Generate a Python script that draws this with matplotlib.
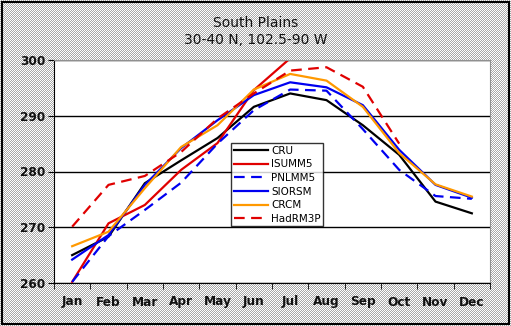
import matplotlib.pyplot as plt
from matplotlib.patches import Rectangle
import numpy as np

months = ['Jan', 'Feb', 'Mar', 'Apr', 'May', 'Jun', 'Jul', 'Aug', 'Sep', 'Oct', 'Nov', 'Dec']
nan = np.nan
cru = [265.0, 268.3, 277.9, 282.0, 286.0, 291.6, 294.0, 292.8, 288.3, 283.0, 274.6, 272.5]
isumm5 = [260.2, 270.7, 274.0, 280.3, 285.1, 294.6, 300.3, nan, nan, nan, nan, nan]
pnlmm5 = [260.2, 268.4, 273.1, 278.0, 285.0, 291.0, 294.7, 294.5, 287.6, 280.3, 275.6, 275.1]
siorsm = [264.2, 268.6, 277.6, 284.2, 289.2, 293.7, 296.0, 295.1, 291.9, 283.9, 277.6, 275.3]
crcm = [266.6, 269.2, 277.0, 284.4, 288.3, 294.7, 297.5, 296.3, 291.6, 283.3, 277.7, 275.5]
hadrm3p = [270.1, 277.6, 279.2, 283.5, 289.5, 294.0, 298.1, 298.7, 295.2, 285.0, nan, nan]

dash = (0, (4.8, 2.9))
series = [
    ('CRU', cru, '#000000', '-'),
    ('ISUMM5', isumm5, '#e00000', '-'),
    ('PNLMM5', pnlmm5, '#0000f0', dash),
    ('SIORSM', siorsm, '#0000f0', '-'),
    ('CRCM', crcm, '#ff9900', '-'),
    ('HadRM3P', hadrm3p, '#e00000', dash),
]

W, H = 511, 326
fig = plt.figure(figsize=(W / 100, H / 100), dpi=100)

# dithered grey background like the old Excel chart area
yy, xx = np.mgrid[0:H, 0:W]
checker = np.where((xx + yy) % 2 == 0, 1.0, 0.66)
bg = np.dstack([checker] * 3)
fig.figimage(bg, 0, 0, zorder=-10)
fig.patches.append(Rectangle((1.5 / W, 2.5 / H), (W - 4) / W, (H - 4) / H,
                             transform=fig.transFigure, fill=False,
                             edgecolor='black', lw=1.5, zorder=1))

ax = fig.add_axes([54 / W, 43 / H, 436 / W, 223 / H])
ax.set_facecolor('white')

x = np.arange(len(months))
for name, vals, col, ls in series:
    ax.plot(x, vals, color=col, linestyle=ls, lw=1.6, label=name)

ax.set_xlim(-0.5, 11.5)
ax.set_ylim(260, 300)
ax.set_yticks([260, 270, 280, 290, 300])
ax.yaxis.grid(True, color='black', lw=1)
ax.set_axisbelow(True)
ax.set_xticks(x)
ax.set_xticklabels(months)
ax.set_xticks(np.arange(-0.5, 12, 1), minor=True)
ax.tick_params(axis='x', which='major', length=0, pad=9)
ax.tick_params(axis='x', which='minor', length=4, color='black', direction='out')
ax.tick_params(axis='y', length=4, color='black', direction='out', pad=2)
for lab in ax.get_xticklabels() + ax.get_yticklabels():
    lab.set_fontweight('bold')
    lab.set_fontsize(8.7)
    lab.set_color('#111111')
for s in ['top', 'right']:
    ax.spines[s].set_color('#909090')
for s in ['left', 'bottom']:
    ax.spines[s].set_color('black')

fig.text(0.5, 1 - 23 / H, 'South Plains', ha='center', va='center', fontsize=10, color='#111111')
fig.text(0.5, 1 - 40 / H, '30-40 N, 102.5-90 W', ha='center', va='center', fontsize=10, color='#111111')

leg = ax.legend(loc='upper left', bbox_to_anchor=((231 - 54) / 436, (283 - 143) / 223),
                fontsize=7.5, frameon=True, fancybox=False, borderpad=0.25,
                labelspacing=0.35, handlelength=3.3, handletextpad=0.3, borderaxespad=0)
leg.get_frame().set_edgecolor('black')
leg.get_frame().set_linewidth(1)

fig.savefig('out.png', dpi=100)
